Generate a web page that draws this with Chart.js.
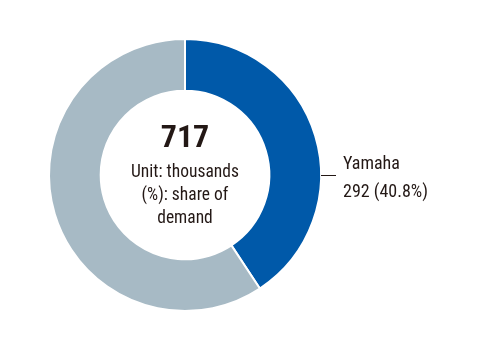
<!DOCTYPE html>
<html>
<head>
<meta charset="utf-8">
<script src="https://cdn.jsdelivr.net/npm/chart.js@4/dist/chart.umd.min.js"></script>
<style>
	html, body { margin: 0; padding: 0; background: #fff; }
	#wrap { width: 500px; height: 350px; position: relative; }
</style>
</head>
<body>
<div id="wrap"><canvas id="donutChart"></canvas></div>
<script>
const categories = ['Yamaha', 'Others'];
const unitValues = [292, 425];
const shareLabels = ['40.8%', ''];
const totalUnits = 717;
const centerLines = ['Unit: thousands', '(%): share of', 'demand'];

const FONT = '"Liberation Sans Narrow", "Roboto Condensed", Roboto, sans-serif';

// center text and the Yamaha callout
const textPlugin = {
	id: 'donutText',
	afterDraw(chart) {
		const ctx = chart.ctx;
		const meta = chart.getDatasetMeta(0);
		const arc = meta.data[0];
		const cx = arc.x, cy = arc.y;
		ctx.save();
		ctx.fillStyle = '#231815';
		ctx.textAlign = 'center';
		ctx.textBaseline = 'middle';
		ctx.font = 'bold 32px ' + FONT;
		ctx.fillText(String(totalUnits), cx, cy - 36);
		ctx.font = '17.5px ' + FONT;
		centerLines.forEach((t, i) => ctx.fillText(t, cx, cy - 2 + i * 23));

		// callout for first slice
		const x0 = cx + arc.outerRadius;
		ctx.strokeStyle = '#231815';
		ctx.lineWidth = 1;
		ctx.beginPath();
		ctx.moveTo(x0, cy + 0.5);
		ctx.lineTo(x0 + 15, cy + 0.5);
		ctx.stroke();
		ctx.textAlign = 'left';
		ctx.font = '18px ' + FONT;
		ctx.fillText(categories[0], x0 + 22, cy - 11);
		ctx.fillText(unitValues[0] + ' (' + shareLabels[0] + ')', x0 + 22, cy + 17);
		ctx.restore();
	}
};

new Chart(document.getElementById('donutChart'), {
	type: 'doughnut',
	data: {
		labels: categories,
		datasets: [{
			data: unitValues,
			backgroundColor: ['#0059a9', '#a7bac5'],
			borderColor: '#ffffff',
			borderWidth: 2
		}]
	},
	options: {
		responsive: true,
		maintainAspectRatio: false,
		animation: false,
		cutout: '62%',
		layout: { padding: { left: 48, right: 178, top: 38, bottom: 38 } },
		plugins: {
			legend: { display: false },
			tooltip: { enabled: false }
		}
	},
	plugins: [textPlugin]
});
</script>
</body>
</html>
